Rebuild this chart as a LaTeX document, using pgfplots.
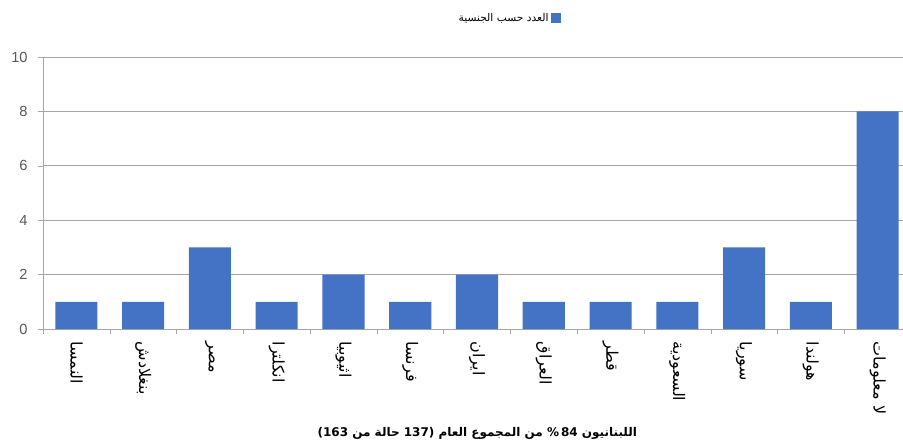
\documentclass[border=0pt]{standalone}
\usepackage{pgfplots}
\pgfplotsset{compat=1.18}
\usepackage{fontspec}
\setmainfont{Liberation Sans}
\newfontfamily\arabicfont[Script=Arabic]{DejaVu Sans}
\TeXXeTstate=1
\definecolor{barblue}{HTML}{4472C4}
\definecolor{gridgray}{HTML}{A6A6A6}
\definecolor{ticktext}{HTML}{595959}
\begin{document}
\begin{tikzpicture}
\begin{axis}[
  scale only axis, width=645pt, height=204pt,
  xmin=-0.5, xmax=12.38, ymin=0, ymax=10,
  ybar, bar width=0.63,
  xtick={0,...,12},
  xticklabels={النمسا,بنغلادش,مصر,انكلترا,اثيوبيا,فرنسا,ايران,العراق,قطر,السعودية,سوريا,هولندا,{\beginR لا معلومات\endR}},
  x tick label style={rotate=-90, anchor=west, font=\arabicfont\fontsize{12}{13}\selectfont, text=black},
  xticklabel shift=2pt,
  minor xtick={-0.5,0.5,...,11.5},
  major x tick style={draw=none},
  minor x tick style={gridgray},
  minor tick length=4pt,
  major tick length=4pt,
  tick align=outside,
  ytick={0,2,...,10},
  y tick style={gridgray},
  y tick label style={font=\fontsize{11}{12}\selectfont, text=ticktext, xshift=-4pt},
  /pgf/number format/assume math mode=true,
  ymajorgrids,
  grid style={gridgray, line width=0.6pt},
  axis x line*=bottom, axis y line*=left,
  axis line style={gridgray, line width=0.6pt},
  xlabel={\arabicfont\bfseries\beginR\hbox{اللبنانيون} \hbox{84\,\%} \hbox{من} \hbox{المجموع} \hbox{العام} \hbox{(137} \hbox{حالة} \hbox{من} \hbox{163)}\endR},
  xlabel style={at={(axis description cs:0.505,-0.382)}, anchor=center, font=\fontsize{9}{11}\selectfont},
  legend style={draw=none, at={(axis description cs:0.541,1.143)}, anchor=center, font=\arabicfont\fontsize{8}{10}\selectfont},
  legend plot pos=right,
  legend image code/.code={\fill[barblue] (0pt,-3.5pt) rectangle (7pt,3.5pt);},
]
\addplot[fill=barblue, draw=none] coordinates {
  (0,1) (1,1) (2,3) (3,1) (4,2) (5,1) (6,2) (7,1) (8,1) (9,1) (10,3) (11,1) (12,8)
};
\addlegendentry{\beginR\hbox{العدد} \hbox{حسب} \hbox{الجنسية}\endR}
\end{axis}
\pgfresetboundingbox
\path ([xshift=-32.25pt,yshift=-86.25pt]current axis.south west) rectangle ([yshift=42.75pt]current axis.north east);
\end{tikzpicture}
\end{document}
